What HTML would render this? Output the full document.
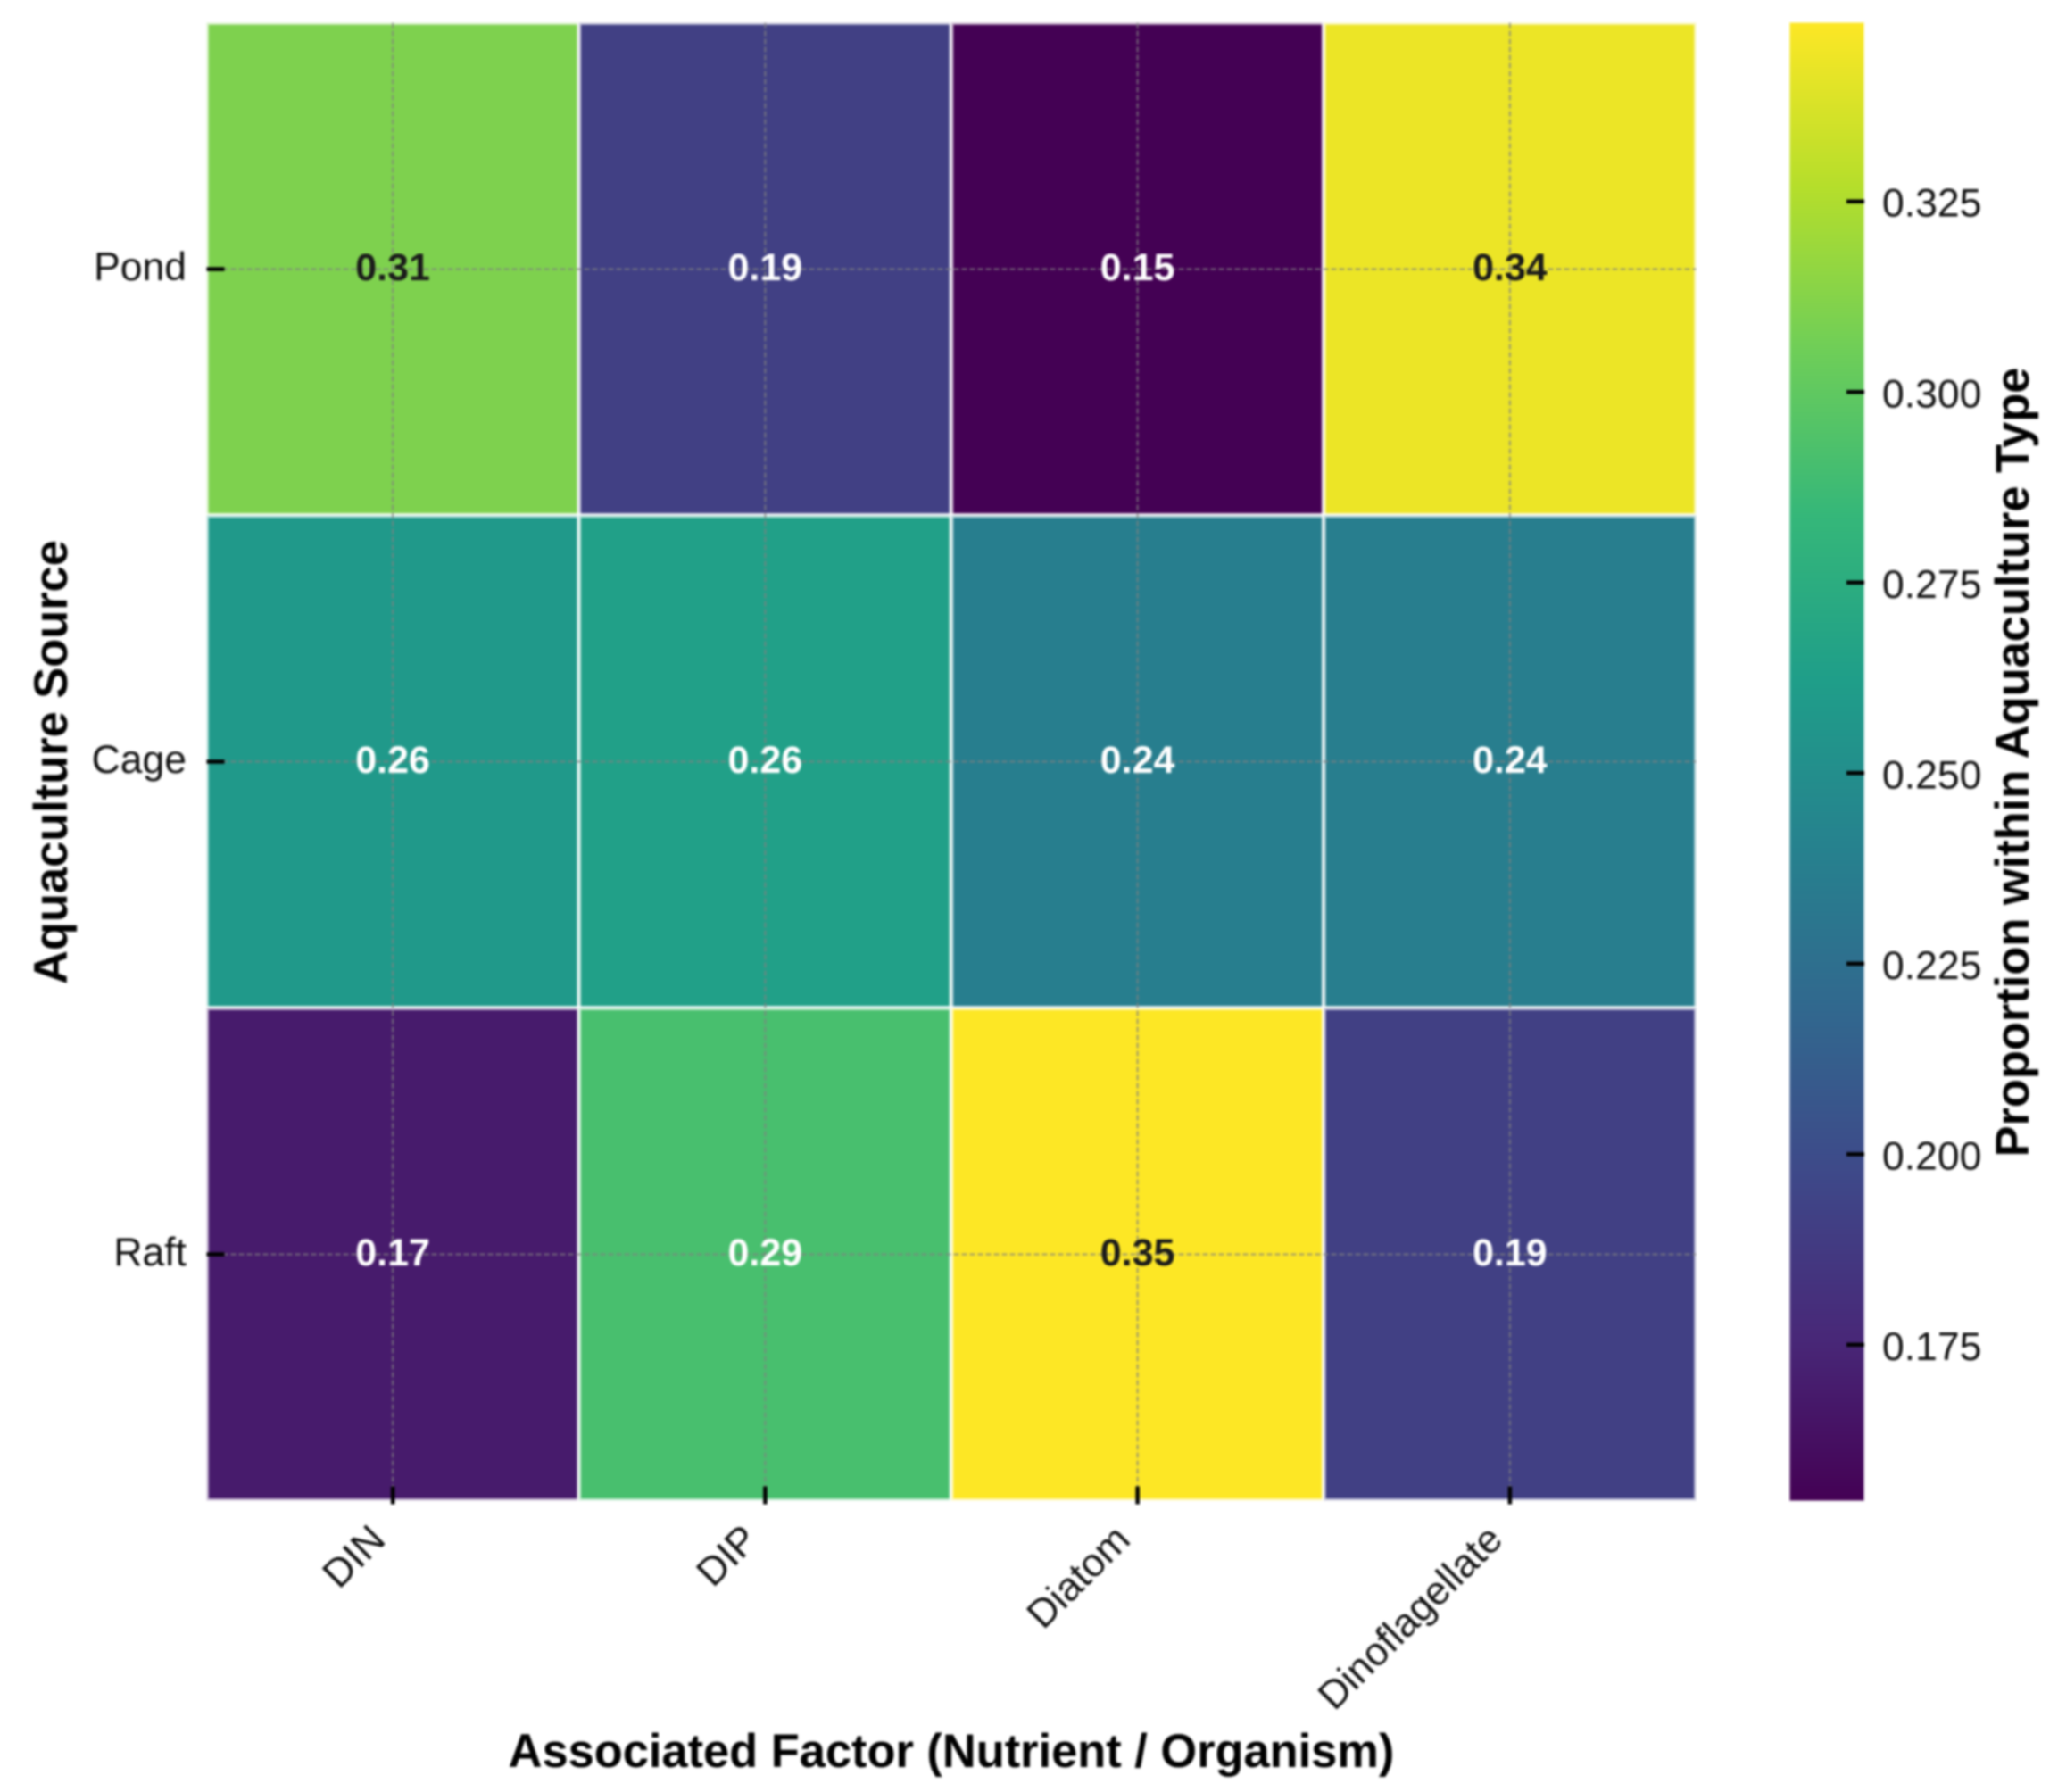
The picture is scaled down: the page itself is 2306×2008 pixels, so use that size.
<!DOCTYPE html>
<html>
<head>
<meta charset="utf-8">
<title>Heatmap</title>
<style>
html,body{margin:0;padding:0;background:#fff;}
svg{display:block;filter:blur(1.2px);}
text{font-family:"Liberation Sans",Arial,sans-serif;}
</style>
</head>
<body>
<svg id="chart" xmlns="http://www.w3.org/2000/svg" width="2306" height="2008" viewBox="0 0 2306 2008">
<rect width="2306" height="2008" fill="#ffffff"/>
<g id="cells"></g>
<g id="grid"></g>
<g id="ticks"></g>
<g id="annots"></g>
<g id="colorbar"></g>
<text x="1066" y="1980" text-anchor="middle" font-size="52.4" font-weight="bold" fill="#000">Associated Factor (Nutrient / Organism)</text>
<text transform="translate(75,854) rotate(-90)" text-anchor="middle" font-size="52.4" font-weight="bold" fill="#000">Aquaculture Source</text>
<text transform="translate(2273,854) rotate(-90)" text-anchor="middle" font-size="52.4" font-weight="bold" fill="#000">Proportion within Aquaculture Type</text>
</svg>
<script>
const factors = ["DIN", "DIP", "Diatom", "Dinoflagellate"];
const sources = ["Pond", "Cage", "Raft"];
const pondValues = [0.3105, 0.1918, 0.1545, 0.344];
const cageValues = [0.2585, 0.2645, 0.238, 0.2375];
const raftValues = [0.169, 0.2915, 0.349, 0.192];
const colorbarTicks = [0.175, 0.2, 0.225, 0.25, 0.275, 0.3, 0.325];
const viridisStops = ["#440154", "#482878", "#3e4989", "#31688e", "#26828e", "#1f9e89", "#35b779", "#6ece58", "#b5de2b", "#fde725"];
const valueRows = [pondValues, cageValues, raftValues];

const NS = "http://www.w3.org/2000/svg";
const plot = {left: 231.5, right: 1900.5, top: 25.5, bottom: 1681.5};
const bar = {left: 2005, right: 2089, top: 25, bottom: 1682};
const vMin = Math.min.apply(null, valueRows.flat());
const vMax = Math.max.apply(null, valueRows.flat());
const cbMin = 0.1545, cbMax = 0.3485;

function xBand(i) { return plot.left + (plot.right - plot.left) * i / factors.length; }
function yBand(i) { return plot.top + (plot.bottom - plot.top) * i / sources.length; }
function xCenter(i) { return xBand(i + 0.5); }
function yCenter(i) { return yBand(i + 0.5); }
function cbY(v) { return bar.bottom - (v - cbMin) / (cbMax - cbMin) * (bar.bottom - bar.top); }
function hexToRgb(h) { return [1, 3, 5].map(function (p) { return parseInt(h.substr(p, 2), 16); }); }
function viridis(t) {
  t = Math.max(0, Math.min(1, t));
  const p = t * (viridisStops.length - 1);
  const i = Math.min(Math.floor(p), viridisStops.length - 2);
  const a = hexToRgb(viridisStops[i]), b = hexToRgb(viridisStops[i + 1]);
  const f = p - i;
  return "rgb(" + a.map(function (c, k) { return Math.round(c + (b[k] - c) * f); }).join(",") + ")";
}
function mk(tag, attrs, parent, txt) {
  const el = document.createElementNS(NS, tag);
  Object.keys(attrs).forEach(function (k) { el.setAttribute(k, attrs[k]); });
  if (txt !== undefined) el.textContent = txt;
  parent.appendChild(el);
  return el;
}

const cellsG = document.getElementById("cells");
const gridG = document.getElementById("grid");
const ticksG = document.getElementById("ticks");
const annotsG = document.getElementById("annots");
const cbG = document.getElementById("colorbar");

valueRows.forEach(function (row, r) {
  row.forEach(function (v, c) {
    const t = (v - vMin) / (vMax - vMin);
    const cell = mk("rect", {x: xBand(c), y: yBand(r), width: xBand(c + 1) - xBand(c), height: yBand(r + 1) - yBand(r), fill: viridis(t), stroke: "#ffffff", "stroke-opacity": 0.72, "stroke-width": 4.5}, cellsG);
    
    
    const label = mk("text", {x: xCenter(c), y: yCenter(r) + 12.5, "text-anchor": "middle", "font-size": 43, "font-weight": "bold", fill: v > 0.3 ? "#1a1a1a" : "#ffffff"}, annotsG, v.toFixed(2));
    
    
  });
});

factors.forEach(function (name, i) {
  const x = xCenter(i);
  const g = mk("line", {x1: x, x2: x, y1: plot.top, y2: plot.bottom, stroke: "#808080", "stroke-opacity": 0.85, "stroke-width": 1.8, "stroke-dasharray": "6 3"}, gridG);
  
  
  const t = mk("line", {x1: x, x2: x, y1: plot.bottom - 16, y2: plot.bottom + 4, stroke: "#000", "stroke-width": 4.5}, ticksG);
  
  
  const l = mk("text", {transform: "translate(" + (x - 6) + "," + (plot.bottom + 46) + ") rotate(-45)", "text-anchor": "end", "font-size": 44.5, fill: "#111"}, annotsG, name);
  
  
});

sources.forEach(function (name, i) {
  const y = yCenter(i);
  const g = mk("line", {x1: plot.left, x2: plot.right, y1: y, y2: y, stroke: "#808080", "stroke-opacity": 0.75, "stroke-width": 2, "stroke-dasharray": "6 3"}, gridG);
  
  
  const t = mk("line", {x1: plot.left, x2: plot.left + 20, y1: y, y2: y, stroke: "#000", "stroke-width": 4.5}, ticksG);
  
  
  const l = mk("text", {x: 209, y: y + 12.5, "text-anchor": "end", "font-size": 44.5, fill: "#111"}, annotsG, name);
  
  
});

const defs = mk("defs", {}, cbG);
const grad = mk("linearGradient", {id: "viridisGrad", x1: 0, y1: 1, x2: 0, y2: 0}, defs);
viridisStops.forEach(function (c, i) {
  mk("stop", {offset: i / (viridisStops.length - 1), "stop-color": c}, grad);
});
const barRect = mk("rect", {x: bar.left, y: bar.top, width: bar.right - bar.left, height: bar.bottom - bar.top, fill: "url(#viridisGrad)", stroke: "#ffffff", "stroke-opacity": 0.5, "stroke-width": 2}, cbG);


colorbarTicks.forEach(function (v) {
  const y = cbY(v);
  const t = mk("line", {x1: bar.right - 20, x2: bar.right, y1: y, y2: y, stroke: "#000", "stroke-width": 4.5}, cbG);
  
  
  const l = mk("text", {x: 2109, y: y + 17, "font-size": 44.5, fill: "#111"}, cbG, v.toFixed(3));
  
  
});
</script>
</body>
</html>
